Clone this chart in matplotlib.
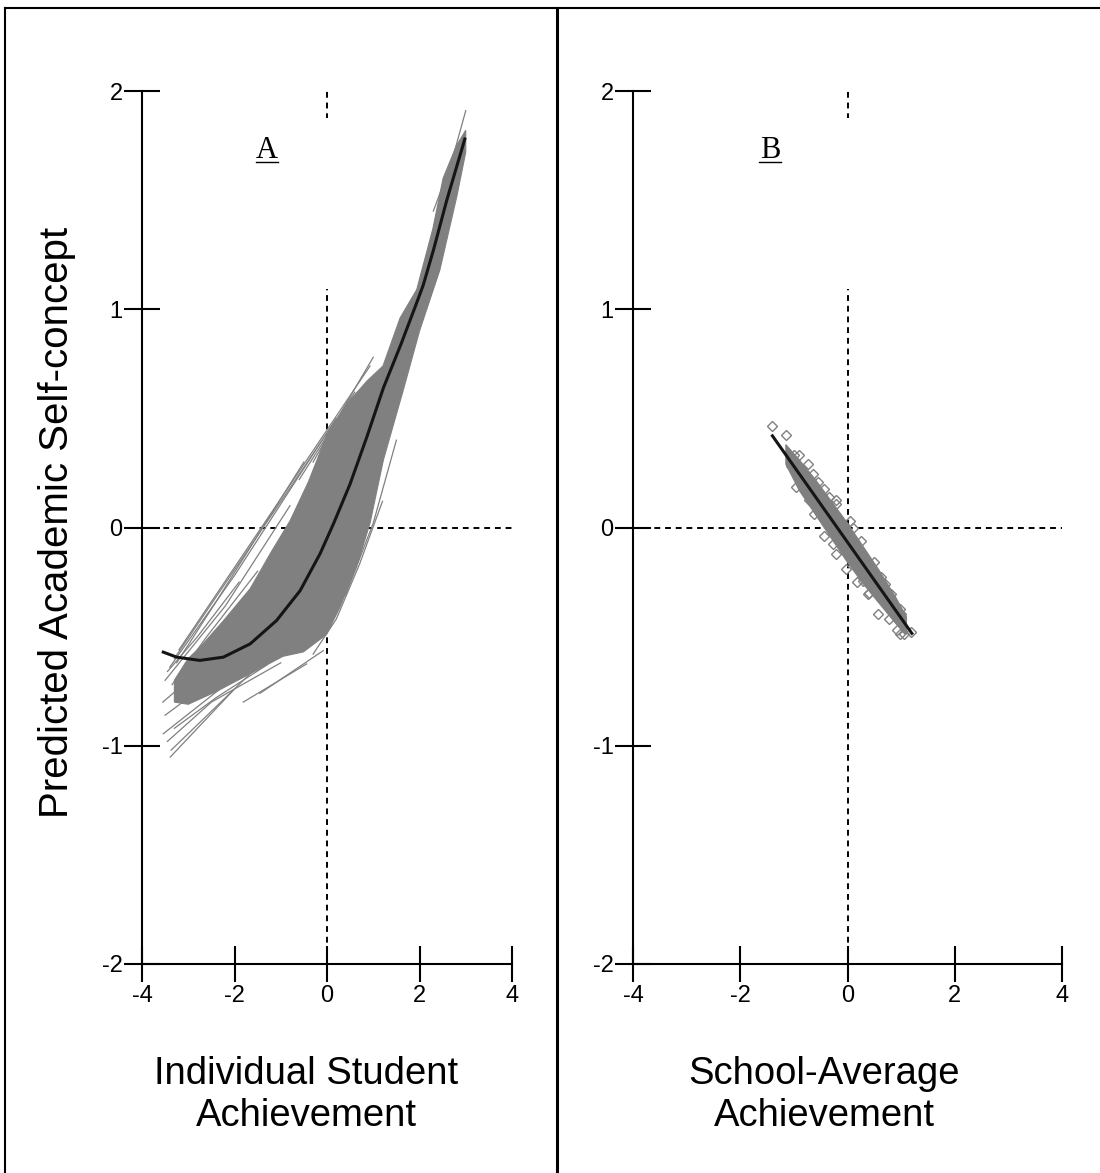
import numpy as np
import matplotlib.pyplot as plt
from matplotlib.lines import Line2D
from matplotlib.patches import Rectangle

# ---- data ----
x_ticks = [-4, -2, 0, 2, 4]
y_ticks = [-2, -1, 0, 1, 2]

# panel A: overall (fixed) curve
curve_x = [-3.54, -3.25, -2.75, -2.24, -1.66, -1.09, -0.58, -0.15, 0.14, 0.50,
           0.86, 1.22, 1.60, 1.94, 2.08, 2.30, 2.59, 2.98]
curve_y = [-0.571, -0.594, -0.609, -0.594, -0.533, -0.426, -0.289, -0.12,
           0.017, 0.20, 0.414, 0.64, 0.84, 1.03, 1.11, 1.27, 1.50, 1.78]

# panel A: envelope of the dense school lines
band_up_x = [-3.3, -3.0, -2.75, -2.25, -1.66, -1.2, -0.8, -0.4, -0.01, 0.4,
             0.86, 1.21, 1.58, 1.94, 2.29, 2.51, 2.8, 3.0]
band_up_y = [-0.70, -0.60, -0.55, -0.43, -0.28, -0.11, 0.03, 0.21, 0.42, 0.56,
             0.67, 0.74, 0.96, 1.09, 1.37, 1.60, 1.75, 1.82]
band_lo_x = [-3.3, -3.0, -2.38, -1.66, -0.95, -0.51, -0.01, 0.28, 0.64, 0.93,
             1.22, 1.65, 2.0, 2.44, 2.81, 3.0]
band_lo_y = [-0.80, -0.81, -0.75, -0.67, -0.59, -0.57, -0.49, -0.365, -0.18,
             0.02, 0.31, 0.63, 0.90, 1.18, 1.52, 1.72]

# panel A: single school lines outside the dense band
school_lines = [
    ([-3.20, -1.45, 0.93], [-0.56, -0.01, 0.74]),
    ([-3.30, -1.70, 0.60], [-0.60, -0.10, 0.62]),
    ([-3.40, -2.00, 0.20], [-0.64, -0.22, 0.50]),
    ([-3.25, -2.38, -0.50], [-0.62, -0.334, 0.30]),
    ([-3.50, -2.20, -0.80], [-0.70, -0.36, 0.10]),
    ([-3.35, -2.60, -1.50], [-0.72, -0.50, -0.20]),
    ([-3.45, -2.80, -1.90], [-0.66, -0.50, -0.25]),
    ([-0.30, 0.50, 1.00], [0.30, 0.60, 0.78]),
    ([-0.60, 0.30], [0.22, 0.52]),
    ([-3.54, -2.17, -1.20], [-0.945, -0.716, -0.60]),
    ([-3.39, -2.03], [-1.052, -0.747]),
    ([-3.37, -1.66], [-1.02, -0.67]),
    ([-3.45, -2.50, -1.00], [-0.98, -0.80, -0.62]),
    ([-3.50, -2.80], [-0.86, -0.75]),
    ([-3.30, -2.40, -1.30], [-0.92, -0.78, -0.63]),
    ([-1.45, -0.08], [-0.76, -0.564]),
    ([-1.81, -0.44], [-0.80, -0.625]),
    ([-3.55, -3.00], [-0.80, -0.70]),
    ([-0.30, 0.20, 0.70, 1.20], [-0.58, -0.42, -0.17, 0.12]),
    ([0.40, 1.00, 1.50], [-0.31, 0.02, 0.40]),
    ([2.30, 2.70, 3.00], [1.45, 1.68, 1.91]),
]

# panel B: school means and fitted line
fit_x = [-1.4, 1.2]
fit_y = [0.42, -0.485]
core_up_x = [-1.15, -0.9, -0.6, -0.3, 0.0, 0.3, 0.6, 0.9, 1.1]
core_up_y = [0.38, 0.31, 0.22, 0.12, 0.02, -0.09, -0.20, -0.32, -0.41]
core_lo_x = [-1.15, -0.9, -0.6, -0.3, 0.0, 0.3, 0.6, 0.9, 1.1]
core_lo_y = [0.29, 0.17, 0.06, -0.05, -0.16, -0.26, -0.35, -0.44, -0.49]
school_x = [-1.405, -1.14, -0.91, -0.74, -1.05, -0.65, -0.96, -0.43, -0.71,
            -0.21, -0.84, -0.21, 0.255, -0.27, -0.02, 0.50, 0.63, 0.29, 0.82,
            0.57, 0.78, 1.0, 0.97, 1.19, 0.41, 0.10, -0.43, -0.21, 0.10, 0.38,
            0.97, 0.93, 1.06, -0.55, -0.35, 0.05, 0.18, -0.62, 0.70, -1.0]
school_y = [0.467, 0.426, 0.33, 0.29, 0.284, 0.246, 0.185, 0.177, 0.124,
            0.124, 0.215, 0.109, -0.06, -0.075, -0.19, -0.159, -0.228, -0.243,
            -0.304, -0.395, -0.418, -0.395, -0.487, -0.48, -0.30, -0.113,
            -0.037, -0.121, 0.0, -0.304, -0.373, -0.47, -0.487, 0.21, 0.14,
            0.03, -0.25, 0.06, -0.26, 0.33]

plt.rcParams['axes.unicode_minus'] = False
plt.rcParams['font.family'] = ['Liberation Sans', 'DejaVu Sans']

W, H = 1100, 1173
fig = plt.figure(figsize=(W / 100, H / 100), dpi=100)
GRAY = '#808080'


def px_axes(x0, x1, y0, y1):
    return fig.add_axes([x0 / W, 1 - y1 / H, (x1 - x0) / W, (y1 - y0) / H])


def fig_line(xs, ys, lw):
    fig.add_artist(Line2D([x / W for x in xs], [1 - y / H for y in ys],
                          color='k', lw=lw, transform=fig.transFigure))


def style(ax, box):
    ax.set_xlim(-4, 4)
    ax.set_ylim(-2, 2)
    for s in ['top', 'right']:
        ax.spines[s].set_visible(False)
    for s in ['left', 'bottom']:
        ax.spines[s].set_linewidth(1.5)
    ax.set_xticks(x_ticks)
    ax.set_yticks(y_ticks)
    ax.set_xticklabels([str(t) for t in x_ticks])
    ax.set_yticklabels([str(t) for t in y_ticks])
    ax.tick_params(direction='inout', length=26, width=1.5, labelsize=17)
    ax.tick_params(axis='y', pad=1)
    ax.tick_params(axis='x', pad=2)
    dash = (0, (3, 2.5))
    ax.axhline(0, color='k', lw=1.4, ls=dash, zorder=1)
    ax.axvline(0, color='k', lw=1.4, ls=dash, zorder=1)
    # white text box of the panel letter hides part of the reference line
    ax.add_patch(Rectangle(box[0], box[1], box[2], facecolor='white',
                           edgecolor='none', zorder=1.5))


axA = px_axes(142, 512, 91, 964)
axB = px_axes(633, 1062, 91, 964)
style(axA, ((-1.95, 1.095), 2.6, 0.78))
style(axB, ((-2.0, 1.095), 2.3, 0.78))

# panel A
band_x = band_up_x + band_lo_x[::-1]
band_y = band_up_y + band_lo_y[::-1]
axA.fill(band_x, band_y, color=GRAY, lw=0.8, ec=GRAY, zorder=2)
for lx, ly in school_lines:
    axA.plot(lx, ly, color=GRAY, lw=0.9, zorder=2)
axA.plot(curve_x, curve_y, color='#151515', lw=2.2, zorder=4,
         solid_joinstyle='round')

# panel B
core_x = core_up_x + core_lo_x[::-1]
core_y = core_up_y + core_lo_y[::-1]
axB.fill(core_x, core_y, color=GRAY, lw=0.8, ec=GRAY, zorder=2)
axB.plot(school_x, school_y, ls='none', marker='D', ms=5.2, mfc='none',
         mec=GRAY, mew=1.0, zorder=3)
axB.plot(fit_x, fit_y, color='#151515', lw=2.2, zorder=4)

# panel letters (underlined, serif)
for letter, cx in [('A', 267), ('B', 770)]:
    fig.text(cx / W, 1 - 150 / H, letter, fontsize=22,
             family=['Liberation Serif', 'DejaVu Serif'],
             ha='center', va='center')
    fig_line([cx - 11, cx + 11], [162, 162], 1.0)

# axis titles
fig.text(57 / W, 1 - 522 / H, 'Predicted Academic Self-concept', rotation=90,
         fontsize=29, ha='center', va='center')
fig.text(306 / W, 1 - 1095 / H, 'Individual Student\nAchievement',
         fontsize=27.5, ha='center', va='center', linespacing=1.22)
fig.text(824 / W, 1 - 1095 / H, 'School-Average\nAchievement',
         fontsize=27.5, ha='center', va='center', linespacing=1.22)

# frame lines of the original figure
fig_line([5, W], [8, 8], 1.5)
fig_line([5, 5], [8, H], 1.5)
fig_line([557, 557], [8, H], 2.2)

fig.savefig('out.png', dpi=100)
